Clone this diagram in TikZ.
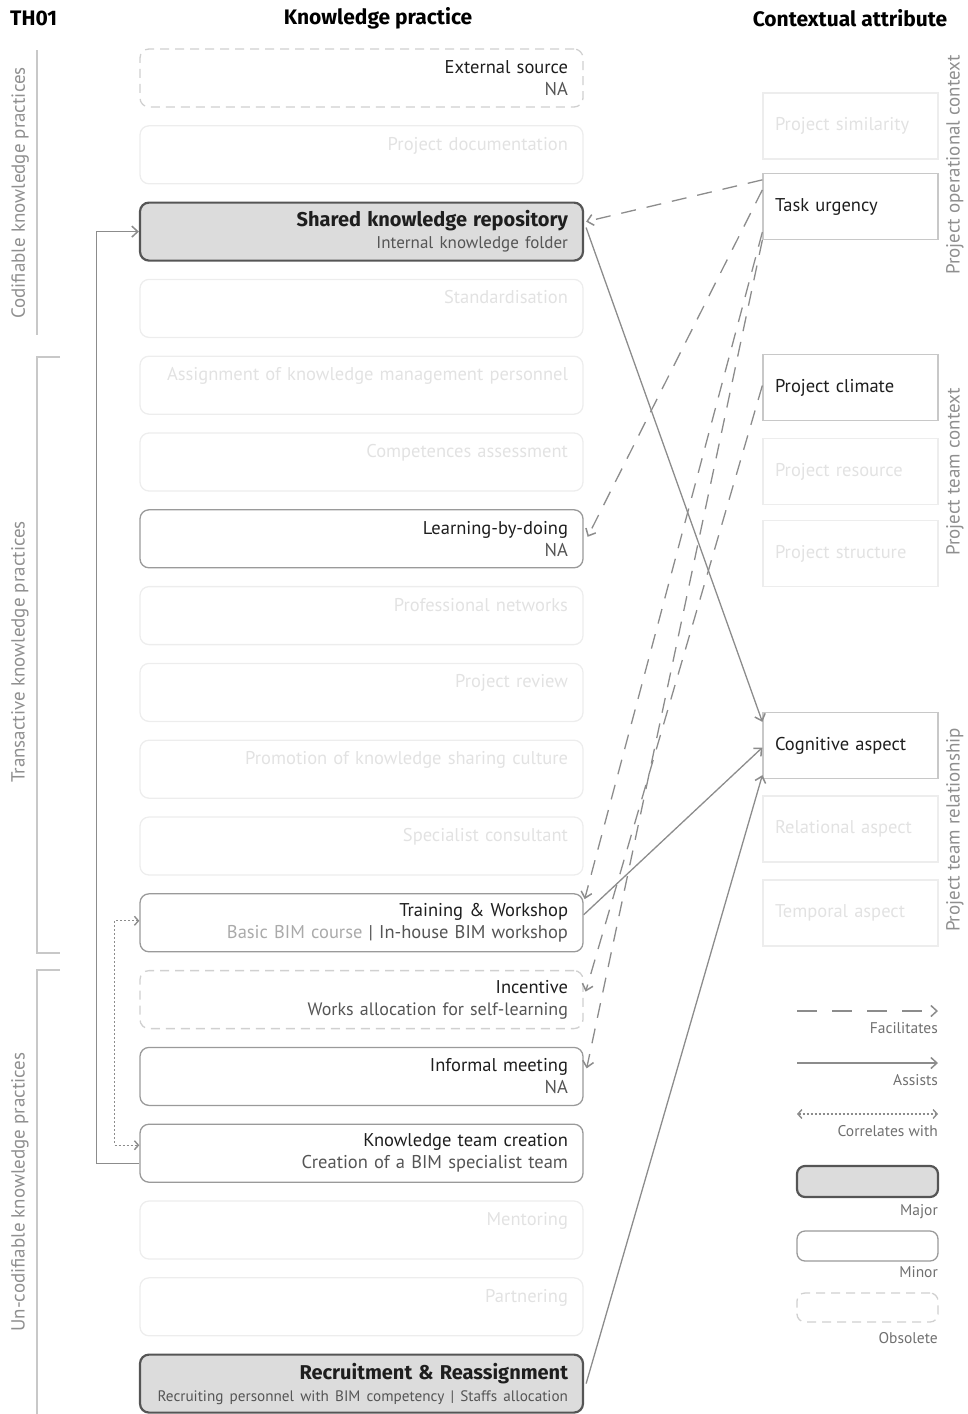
\documentclass[tikz,border=0pt]{standalone}
\usepackage{fontspec}
\setmainfont{PT Sans}
\newfontfamily\boldfam{Fira Sans}
\usetikzlibrary{arrows.meta,calc}
\definecolor{conn}{HTML}{8C8C8C}
\definecolor{faintline}{HTML}{EDEDED}
\definecolor{fainttext}{HTML}{E2E2E2}
\definecolor{titletext}{HTML}{1E1E1E}
\definecolor{subtext}{HTML}{555555}
\definecolor{lightsub}{HTML}{AAAAAA}
\definecolor{majorfill}{HTML}{DCDCDC}
\definecolor{majorline}{HTML}{555555}
\definecolor{minorline}{HTML}{9A9A9A}
\definecolor{obsline}{HTML}{D0D0D0}
\definecolor{caline}{HTML}{C8C8C8}
\definecolor{sidetext}{HTML}{8F8F8F}
\definecolor{bracket}{HTML}{C8C8C8}
\definecolor{legtext}{HTML}{707070}
\begin{document}
\begin{tikzpicture}[x=1pt,y=-1pt,
  kp/.style={rectangle, rounded corners=9, minimum width=443, minimum height=58,
    text width=413, inner sep=0, align=right, text=titletext,
    font=\fontsize{18.5}{22}\selectfont},
  kmajor/.style={kp, draw=majorline, line width=2.2, fill=majorfill},
  kminor/.style={kp, draw=minorline, line width=1.3},
  kobs/.style={kp, draw=obsline, line width=1.3, dash pattern=on 9 off 6},
  kfaint/.style={kp, draw=faintline, line width=1.3, text=fainttext},
  cabox/.style={rectangle, minimum width=175, minimum height=66, text width=151,
    inner sep=0, align=left, text=titletext, font=\fontsize{18.5}{22}\selectfont},
  caon/.style={cabox, draw=caline, line width=1.3},
  caoff/.style={cabox, draw=faintline, line width=1.3, text=fainttext},
  tip/.style={-{Straight Barb[length=6,width=11,line width=1.5]}},
  fac/.style={tip, draw=conn, line width=1.3, dash pattern=on 15 off 11},
  asst/.style={tip, draw=conn, line width=1.3},
  corr/.style={{Straight Barb[length=4,width=9,line width=1.4]}-{Straight Barb[length=4,width=9,line width=1.4]}, draw=conn, line width=1.1, dash pattern=on 2 off 2},
  side/.style={rotate=90, text=sidetext, font=\fontsize{19}{22}\selectfont},
  head/.style={font=\boldfam\fontsize{21}{24}\selectfont\bfseries, text=black},
  legtxt/.style={anchor=east, inner sep=0, text=legtext, font=\fontsize{15.5}{18}\selectfont},
  brk/.style={draw=bracket, line width=1.2}
]
\useasboundingbox (0,0) rectangle (968,1414);

% headers
\node[head, anchor=west, inner sep=0] (th) at (10,18) {TH01};
\node[head] (hkp) at (378,18) {Knowledge practice};
\node[head] (hca) at (850,18) {Contextual attribute};

% left brackets and side labels
\draw[brk] (37,50) -- (37,335);
\draw[brk] (60,357) -- (37,357) -- (37,953) -- (60,953);
\draw[brk] (60,970) -- (37,970) -- (37,1414);
\node[side] (lcod) at (20,193) {Codifiable knowledge practices};
\node[side] (ltra) at (20,652) {Transactive knowledge practices};
\node[side] (lunc) at (20,1192) {Un-codifiable knowledge practices};
\node[side] (rpoc) at (955,165) {Project operational context};
\node[side] (rptc) at (955,472) {Project team context};
\node[side] (rptr) at (955,830) {Project team relationship};

% knowledge practices
\node[kobs]   (es)   at (361.5,78)     {External source\\{\color{subtext}NA}};
\node[kfaint] (pd)   at (361.5,154.8)  {Project documentation\\\mbox{}};
\node[kmajor] (skr)  at (361.5,231.6)  {{\boldfam\bfseries\fontsize{20}{22}\selectfont Shared knowledge repository}\\{\color{subtext}\fontsize{17}{22}\selectfont Internal knowledge folder}};
\node[kfaint] (std)  at (361.5,308.4)  {Standardisation\\\mbox{}};
\node[kfaint] (akm)  at (361.5,385.2)  {Assignment of knowledge management personnel\\\mbox{}};
\node[kfaint] (cas)  at (361.5,462)    {Competences assessment\\\mbox{}};
\node[kminor] (lbd)  at (361.5,538.8)  {Learning-by-doing\\{\color{subtext}NA}};
\node[kfaint] (pn)   at (361.5,615.6)  {Professional networks\\\mbox{}};
\node[kfaint] (pr)   at (361.5,692.4)  {Project review\\\mbox{}};
\node[kfaint] (pksc) at (361.5,769.2)  {Promotion of knowledge sharing culture\\\mbox{}};
\node[kfaint] (sc)   at (361.5,846)    {Specialist consultant\\\mbox{}};
\node[kminor] (tw)   at (361.5,922.8)  {Training \& Workshop\\{\color{lightsub}Basic BIM course} {\color{subtext}| In-house BIM workshop}};
\node[kobs]   (inc)  at (361.5,999.6)  {Incentive\\{\color{subtext}\fontsize{18}{22}\selectfont Works allocation for self-learning}};
\node[kminor] (im)   at (361.5,1076.4) {Informal meeting\\{\color{subtext}NA}};
\node[kminor] (ktc)  at (361.5,1153.2) {Knowledge team creation\\{\color{subtext}Creation of a BIM specialist team}};
\node[kfaint] (men)  at (361.5,1230)   {Mentoring\\\mbox{}};
\node[kfaint] (par)  at (361.5,1306.8) {Partnering\\\mbox{}};
\node[kmajor] (rr)   at (361.5,1383.6) {{\boldfam\bfseries\fontsize{20}{22}\selectfont Recruitment \& Reassignment}\\\mbox{\color{subtext}\fontsize{15.2}{22}\selectfont Recruiting personnel with BIM competency | Staffs allocation}};

% contextual attributes
\node[caoff] (ps)   at (850.5,126)   {Project similarity};
\node[caon]  (tu)   at (850.5,206.5) {Task urgency};
\node[caon]  (pc)   at (850.5,387.5) {Project climate};
\node[caoff] (pres) at (850.5,471.5) {Project resource};
\node[caoff] (pstr) at (850.5,553.5) {Project structure};
\node[caon]  (cog)  at (850.5,745.5) {Cognitive aspect};
\node[caoff] (rel)  at (850.5,829)   {Relational aspect};
\node[caoff] (tem)  at (850.5,913)   {Temporal aspect};

% facilitates
\draw[fac] ([yshift=-7pt]tu.north west) -- ([xshift=2pt,yshift=10pt]skr.east);
\draw[fac] ([yshift=-17pt]tu.north west) -- ([xshift=4pt,yshift=2pt]lbd.east);
\draw[fac] ([yshift=8pt]tu.south west) -- ([xshift=1pt,yshift=-6pt]tw.north east);
\draw[fac] (tu.south west) -- ([xshift=3pt,yshift=8pt]im.east);
\draw[fac] ([yshift=2pt]pc.west) -- ([xshift=2pt,yshift=8pt]inc.east);

% assists
\draw[asst] ([xshift=2pt,yshift=4pt]skr.east) -- ([yshift=-10pt]cog.north west);
\draw[asst] ([yshift=8pt]tw.east) -- ([yshift=-2pt]cog.west);
\draw[asst] ([xshift=2pt]rr.east) -- ([yshift=4pt]cog.south west);
\draw[asst] ([yshift=-10pt]ktc.west) -- ++(-43,0) |- (skr.west);

% correlates
\draw[corr] ([yshift=2pt]tw.west) -- ++(-25,0) |- ([yshift=8pt]ktc.west);

% legend
\coordinate (lfa) at (797,1011); \coordinate (lfb) at (938,1011);
\coordinate (laa) at (797,1063); \coordinate (lab) at (938,1063);
\coordinate (lca) at (797,1114); \coordinate (lcb) at (938,1114);
\draw[fac, dash pattern=on 20 off 15] (lfa) -- (lfb);
\draw[asst] (laa) -- (lab);
\draw[corr] (lca) -- (lcb);
\node[legtxt] (tfa) at (938,1028) {Facilitates};
\node[legtxt] (taa) at (938,1080) {Assists};
\node[legtxt] (tca) at (938,1131) {Correlates with};
\node[rectangle, rounded corners=8, draw=majorline, line width=2.2, fill=majorfill, minimum width=141, minimum height=31] (lmaj) at (867.5,1181.5) {};
\node[legtxt] (tmaj) at (938,1212) {Major};
\node[rectangle, rounded corners=8, draw=minorline, line width=1.3, minimum width=141, minimum height=30] (lmin) at (867.5,1246) {};
\node[legtxt] (tmin) at (938,1272) {Minor};
\node[rectangle, rounded corners=8, draw=obsline, line width=1.3, dash pattern=on 9 off 6, minimum width=141, minimum height=29] (lobs) at (867.5,1307.5) {};
\node[legtxt] (tobs) at (938,1338) {Obsolete};
\end{tikzpicture}
\end{document}
